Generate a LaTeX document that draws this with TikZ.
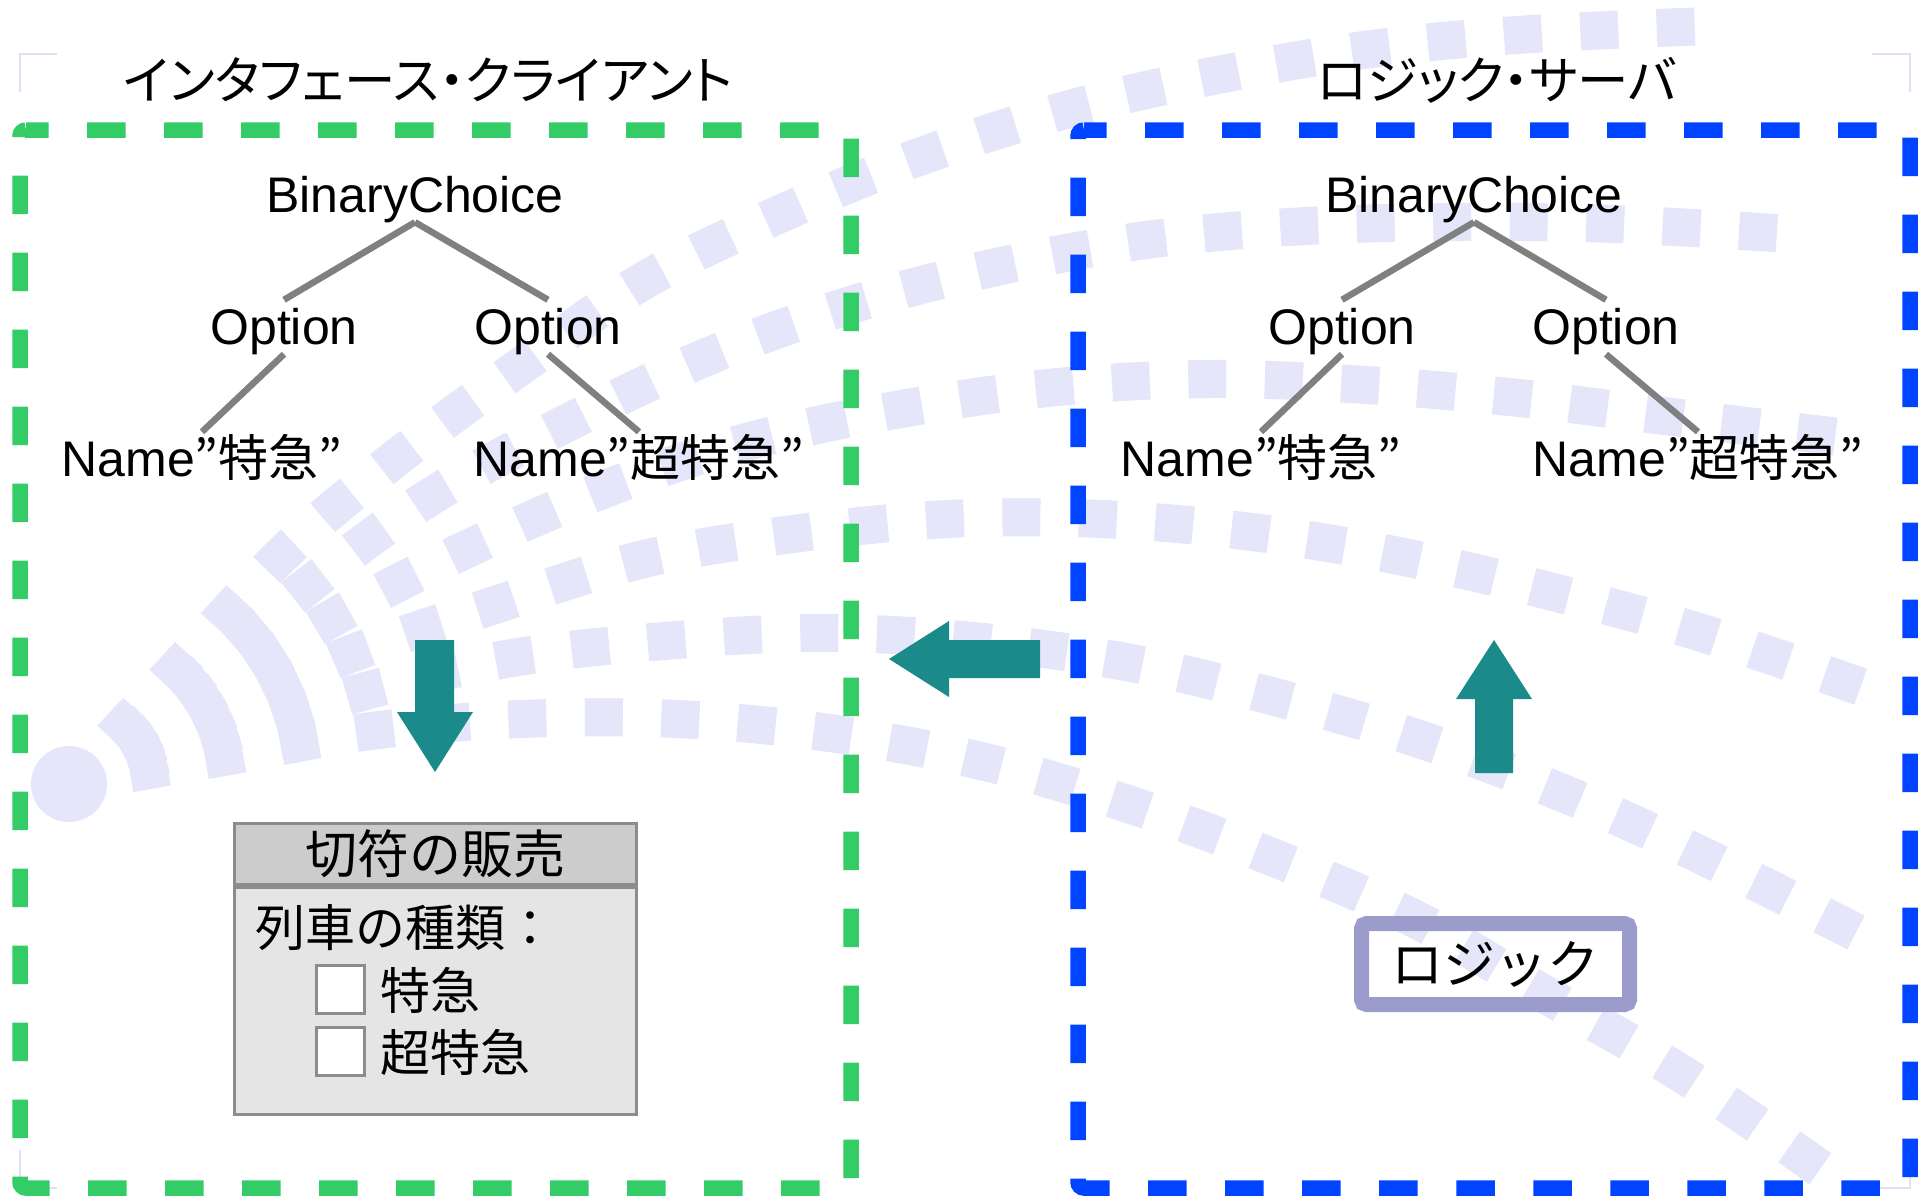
\documentclass[tikz,border=0pt]{standalone}
\usepackage{fontspec}
\setmainfont{Liberation Sans}
\newfontfamily\cjk{Noto Sans CJK JP}
\newfontfamily\cjkp[RawFeature=+palt]{Noto Sans CJK JP}
\definecolor{lav}{RGB}{230,230,250}
\definecolor{zgreen}{RGB}{51,204,102}
\definecolor{zblue}{RGB}{0,68,255}
\definecolor{arrowteal}{RGB}{26,138,138}
\definecolor{edgegray}{RGB}{128,128,128}
\definecolor{logicborder}{RGB}{155,155,204}
\definecolor{panelborder}{RGB}{140,140,140}
\definecolor{panelhead}{RGB}{204,204,204}
\definecolor{panelbg}{RGB}{229,229,229}
\definecolor{cornermark}{RGB}{224,224,244}
\begin{document}
\begin{tikzpicture}[x=1pt,y=-1pt,
  bgrow/.style={draw=lav, line width=38pt, dash pattern=on 38pt off 38.5pt, dash phase=14.5pt},
  zone/.style={line width=15.5pt, dash pattern=on 38.5pt off 38.5pt, dash phase=16pt, rounded corners=6pt},
  tnode/.style={font=\fontsize{50}{60}\selectfont, text height=34pt, text depth=0pt, inner xsep=0pt, inner ysep=10pt, anchor=base},
  tedge/.style={draw=edgegray, line width=6.5pt},
  jtitle/.style={font=\cjkp\fontsize{51.5}{60}\selectfont, inner sep=0pt},
  jtext/.style={font=\cjk\fontsize{50}{60}\selectfont, inner sep=0pt},
  blockarrow/.style={fill=arrowteal},
  chkbox/.style={draw=panelborder, fill=white, line width=3pt, minimum size=48pt, inner sep=0pt},
]
\useasboundingbox (0,0) rectangle (1927,1195);
\fill[white] (0,0) rectangle (1927,1195);

% background decoration
\fill[lav] (69,784) circle (38pt);
\draw[bgrow] plot[smooth, tension=0.6] coordinates {(69,784) (176,669) (286,551) (400,455) (521,366) (645,280) (789,210) (930,153) (1077,107) (1228,73) (1379,48) (1532,34) (1710,26)};
\draw[bgrow] plot[smooth, tension=0.6] coordinates {(69,784) (190,684) (305,588) (430,497) (571,421) (709,356) (854,304) (1001,266) (1154,239) (1307,226) (1462,222) (1614,224) (1790,234)};
\draw[bgrow] plot[smooth, tension=0.6] coordinates {(69,784) (202,700) (329,620) (465,550) (610,487) (754,440) (907,408) (1058,387) (1211,379) (1367,385) (1519,398) (1672,417) (1848,438)};
\draw[bgrow] plot[smooth, tension=0.6] coordinates {(69,784) (211,718) (348,655) (495,605) (644,559) (793,534) (948,519) (1101,519) (1252,532) (1404,557) (1553,592) (1702,633) (1870,690)};
\draw[bgrow] plot[smooth, tension=0.6] coordinates {(69,784) (219,737) (362,692) (512,658) (664,641) (820,633) (973,641) (1126,662) (1275,697) (1422,740) (1565,794) (1705,857) (1865,937)};
\draw[bgrow] plot[smooth, tension=0.6] coordinates {(69,784) (224,757) (371,731) (522,719) (677,719) (830,733) (981,761) (1128,804) (1272,857) (1415,919) (1546,995) (1679,1072) (1825,1172)};

% faint corner marks
\draw[cornermark, line width=1.5pt] (20,92) -- (20,54) -- (57,54);
\draw[cornermark, line width=1.5pt] (1872,54) -- (1910,54) -- (1910,92);
\draw[cornermark, line width=1.5pt] (20,1150) -- (20,1188) -- (57,1188);
\draw[cornermark, line width=1.5pt] (1872,1188) -- (1910,1188) -- (1910,1150);

% zones
\draw[zone, zgreen] (20,130) -- (851,130) -- (851,1188) -- (20,1188) -- cycle;
\draw[zone, zblue] (1078,130) -- (1910,130) -- (1910,1188) -- (1078,1188) -- cycle;

% titles
\node[jtitle] (clientTitle) at (428,80) {インタフェース・クライアント};
\node[jtitle] (serverTitle) at (1497,80) {ロジック・サーバ};

% left tree
\node[tnode] (bcL) at (415,212) {BinaryChoice};
\node[tnode] (o1L) at (284,344) {Option};
\node[tnode] (o2L) at (548,344) {Option};
\node[tnode] (n1L) at (202,476) {Name{\cjk ”特急”}};
\node[tnode] (n2L) at (639,476) {Name{\cjk ”超特急”}};
\draw[tedge] (bcL.south) -- (o1L.north);
\draw[tedge] (bcL.south) -- (o2L.north);
\draw[tedge] (o1L.south) -- (n1L.north);
\draw[tedge] (o2L.south) -- (n2L.north);

% right tree
\node[tnode] (bcR) at (1474,212) {BinaryChoice};
\node[tnode] (o1R) at (1342,344) {Option};
\node[tnode] (o2R) at (1606,344) {Option};
\node[tnode] (n1R) at (1261,476) {Name{\cjk ”特急”}};
\node[tnode] (n2R) at (1698,476) {Name{\cjk ”超特急”}};
\draw[tedge] (bcR.south) -- (o1R.north);
\draw[tedge] (bcR.south) -- (o2R.north);
\draw[tedge] (o1R.south) -- (n1R.north);
\draw[tedge] (o2R.south) -- (n2R.north);

% block arrows
\fill[blockarrow] (415,640) -- (454,640) -- (454,712) -- (473,712) -- (435,772) -- (397,712) -- (415,712) -- cycle;
\fill[blockarrow] (1040,640) -- (949,640) -- (949,621) -- (889,659) -- (949,697) -- (949,678) -- (1040,678) -- cycle;
\fill[blockarrow] (1494,640) -- (1532,699) -- (1513,699) -- (1513,773) -- (1475,773) -- (1475,699) -- (1456,699) -- cycle;

% ticket sales panel
\node[draw=panelborder, fill=panelhead, line width=3pt, minimum width=402pt, minimum height=61pt, inner sep=0pt, font=\cjk\fontsize{52}{60}\selectfont] (hdr) at (435.5,854) {切符の販売};
\node[draw=panelborder, fill=panelbg, line width=3pt, minimum width=402pt, minimum height=227pt, inner sep=0pt, anchor=north] (body) at (hdr.south) {};
\node[jtext, anchor=west] (kind) at (255,928) {列車の種類：};
\node[chkbox] (chk1) at (340,989) {};
\node[chkbox] (chk2) at (340,1051.5) {};
\node[jtext, anchor=west] (opt1) at (380,990) {特急};
\node[jtext, anchor=west] (opt2) at (380,1052) {超特急};

% logic box
\node[draw=logicborder, line width=15pt, rounded corners=5pt, minimum width=268pt, minimum height=81pt, inner sep=0pt, font=\cjk\fontsize{52}{60}\selectfont] (logic) at (1495.5,964) {ロジック};
\end{tikzpicture}
\end{document}
